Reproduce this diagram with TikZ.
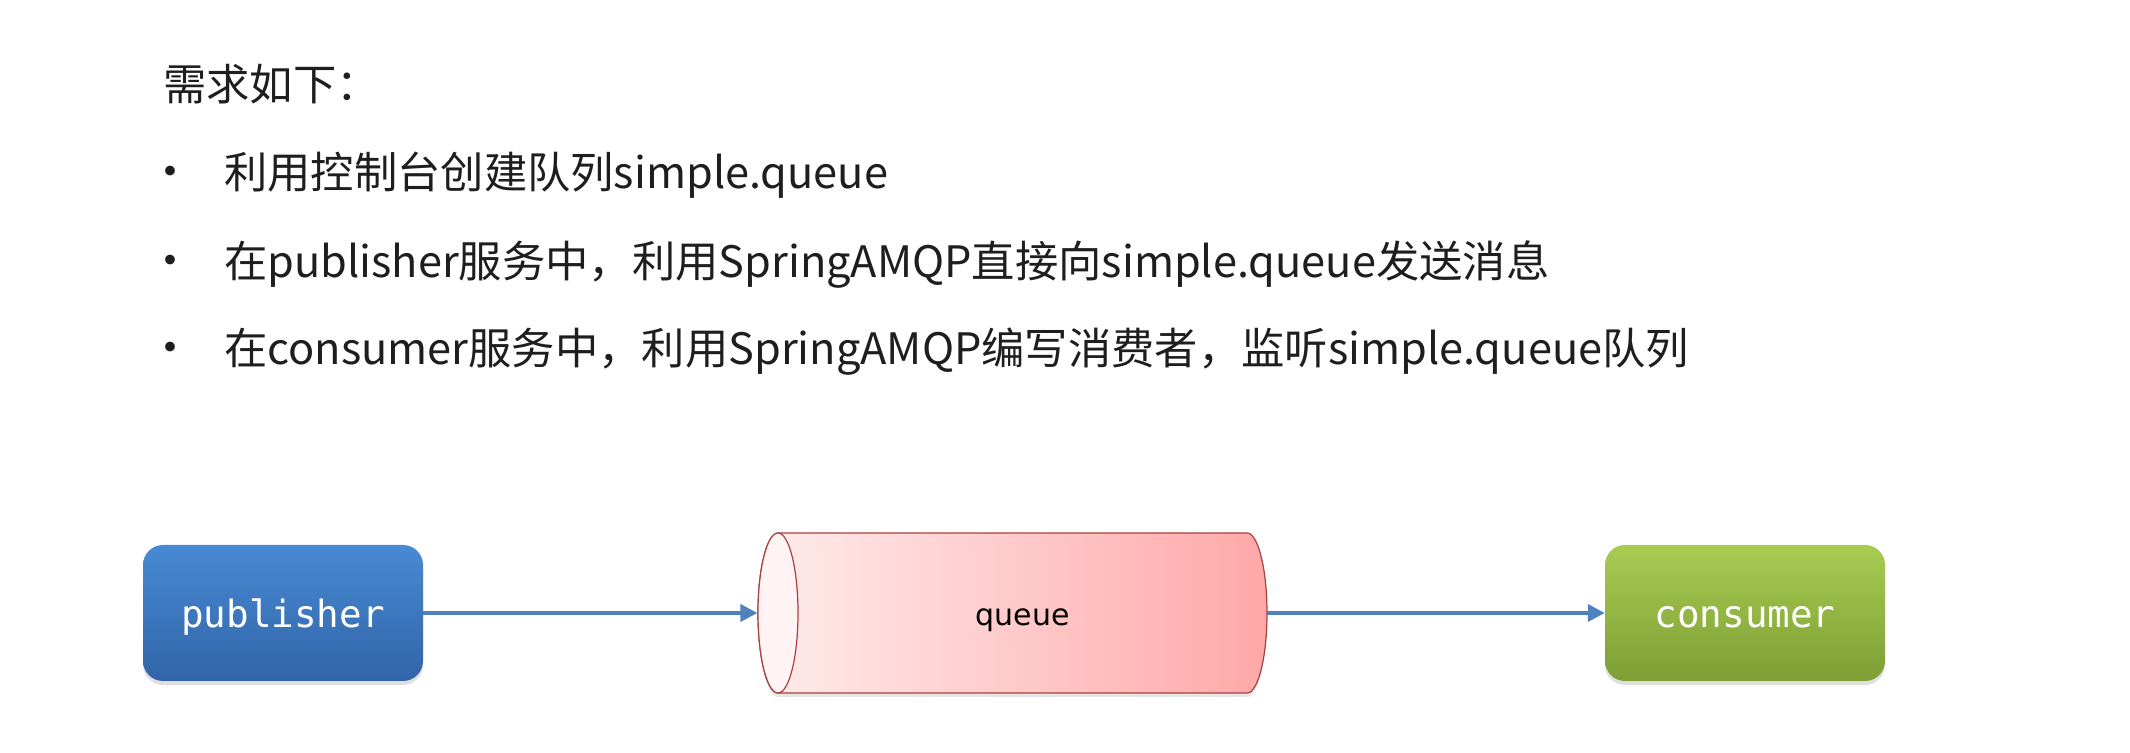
\documentclass[tikz,border=0pt]{standalone}
\usepackage{fontspec}
\setmainfont{Noto Sans CJK SC}
\newfontfamily\monofont{DejaVu Sans Mono}
\newfontfamily\queuefont{DejaVu Sans}
\usetikzlibrary{arrows.meta,shadows,shapes.geometric}

\definecolor{pubtop}{RGB}{72,138,212}
\definecolor{pubbot}{RGB}{50,100,168}
\definecolor{contop}{RGB}{168,204,82}
\definecolor{conbot}{RGB}{124,158,52}
\definecolor{qleft}{RGB}{255,236,236}
\definecolor{qright}{RGB}{255,168,168}
\definecolor{qface}{RGB}{255,243,243}
\definecolor{qborder}{RGB}{168,64,64}
\definecolor{flow}{RGB}{79,129,189}
\definecolor{ink}{RGB}{30,30,30}

\tikzset{
  reqtext/.style={anchor=west, inner sep=0pt, text=ink, font=\fontsize{43.3}{52}\selectfont, text height=39pt, text depth=5pt},
  bulletdot/.style={inner sep=0pt, text=ink, font=\fontsize{46}{52}\selectfont, text height=39pt, text depth=5pt},
  service/.style={rounded corners=20pt, minimum width=280pt, minimum height=136pt, text=white,
    font=\monofont\fontsize{37.5}{40}\selectfont, text height=32pt, text depth=2pt,
    drop shadow={shadow xshift=0pt, shadow yshift=-4pt, opacity=0.25}},
  flowarrow/.style={draw=flow, line width=3.8pt, -{Triangle[length=17pt,width=17pt]}},
}

\begin{document}
\begin{tikzpicture}[x=1pt, y=1pt]
            \useasboundingbox (0,0) rectangle (2130,752);

            % requirements
            \node[reqtext] (title) at (163,668) {需求如下：};

            \node[bulletdot] (dot1) at (170,580) {•};
            \node[bulletdot] (dot2) at (170,491) {•};
            \node[bulletdot] (dot3) at (170,404) {•};

            \node[reqtext] (req1) at (224,580) {利用控制台创建队列simple.queue};
            \node[reqtext] (req2) at (224,491) {在publisher服务中，利用SpringAMQP直接向simple.queue发送消息};
            \node[reqtext] (req3) at (224,404) {在consumer服务中，利用SpringAMQP编写消费者，监听simple.queue队列};

            % publisher -> queue -> consumer
            \node[service, top color=pubtop, bottom color=pubbot] (publisher) at (283,139) {publisher};
            \node[service, top color=contop, bottom color=conbot] (consumer) at (1745,139) {consumer};

            \draw[draw=qborder, line width=1.2pt, left color=qleft, right color=qright,
                  drop shadow={shadow xshift=0pt, shadow yshift=-4pt, opacity=0.2}]
                (778,219) -- (1247,219) arc[start angle=90, end angle=-90, x radius=20, y radius=80]
                -- (778,59) arc[start angle=270, end angle=90, x radius=20, y radius=80] -- cycle;
            \node[ellipse, draw=qborder, line width=1.2pt, fill=qface, minimum width=40pt, minimum height=160pt, inner sep=0pt] (qin) at (778,139) {};
            \node[minimum width=489pt, minimum height=160pt, inner sep=0pt, text=black, text height=26pt, text depth=0pt,
                  font=\queuefont\fontsize{30}{34}\selectfont] (queue) at (1022.5,139) {queue};

            \draw[flowarrow] (publisher) -- (qin);
            \draw[flowarrow] (queue) -- (consumer);
\end{tikzpicture}
\end{document}
